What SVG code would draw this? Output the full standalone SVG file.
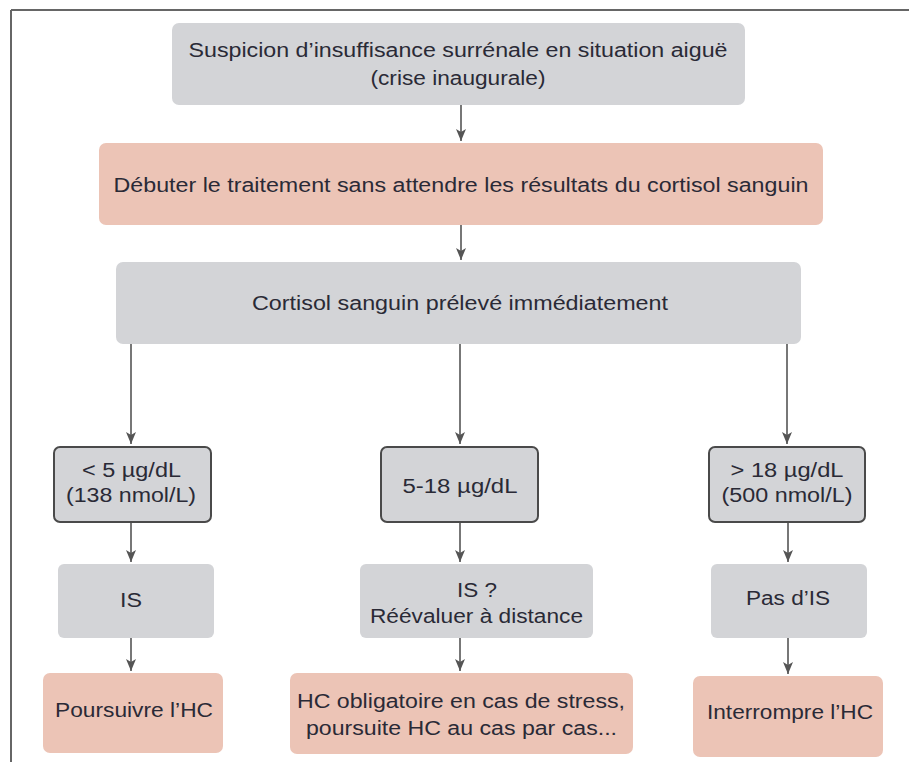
<svg xmlns="http://www.w3.org/2000/svg" width="909" height="762" viewBox="0 0 909 762">
<defs>
<style>
.grey{fill:#d3d4d7;}
.salmon{fill:#ecc4b6;}
.thr{fill:#d3d4d7;stroke:#4a4a4a;stroke-width:2;}
text{font-family:"Liberation Sans",Arial,Helvetica,sans-serif;font-size:20px;fill:#2a2a36;text-anchor:middle;}
.conn line{stroke:#555;stroke-width:1.6;fill:none;}
</style>
<marker id="ah" viewBox="0 0 12 10" refX="12" refY="5" markerWidth="12" markerHeight="10" markerUnits="userSpaceOnUse" orient="auto">
<path d="M0,0 L12,5 L0,10 L3,5 z" fill="#555"/>
</marker>
</defs>
<rect width="909" height="762" fill="#fff"/>
<g id="frame">
<line x1="11" y1="10" x2="909" y2="10" stroke="#666" stroke-width="2"/>
<line x1="11" y1="10" x2="11" y2="762" stroke="#666" stroke-width="2"/>
</g>
<g id="n1">
<rect class="grey" x="172" y="23" width="573" height="82" rx="7"/>
<text x="458" y="57" textLength="539" lengthAdjust="spacingAndGlyphs">Suspicion d’insuffisance surrénale en situation aiguë</text>
<text x="458" y="85" textLength="175" lengthAdjust="spacingAndGlyphs">(crise inaugurale)</text>
</g>
<g id="n2">
<rect class="salmon" x="99" y="143" width="724" height="82" rx="7"/>
<text x="461" y="192" textLength="695" lengthAdjust="spacingAndGlyphs">Débuter le traitement sans attendre les résultats du cortisol sanguin</text>
</g>
<g id="n3">
<rect class="grey" x="116" y="262" width="685" height="82" rx="7"/>
<text x="460" y="310" textLength="416" lengthAdjust="spacingAndGlyphs">Cortisol sanguin prélevé immédiatement</text>
</g>
<g id="t1">
<rect class="thr" x="54" y="447" width="157" height="75" rx="6"/>
<text x="131.5" y="477" textLength="99" lengthAdjust="spacingAndGlyphs">&lt; 5 µg/dL</text>
<text x="131" y="502" textLength="130" lengthAdjust="spacingAndGlyphs">(138 nmol/L)</text>
</g>
<g id="t2">
<rect class="thr" x="381" y="447" width="157" height="75" rx="6"/>
<text x="460" y="493" textLength="115" lengthAdjust="spacingAndGlyphs">5-18 µg/dL</text>
</g>
<g id="t3">
<rect class="thr" x="709" y="447" width="156" height="75" rx="6"/>
<text x="787" y="477" textLength="113" lengthAdjust="spacingAndGlyphs">&gt; 18 µg/dL</text>
<text x="787" y="502" textLength="131" lengthAdjust="spacingAndGlyphs">(500 nmol/L)</text>
</g>
<g id="d1">
<rect class="grey" x="58" y="564" width="156" height="74" rx="6"/>
<text x="131" y="607" textLength="22" lengthAdjust="spacingAndGlyphs">IS</text>
</g>
<g id="d2">
<rect class="grey" x="360" y="564" width="233" height="74" rx="6"/>
<text x="477" y="597" textLength="40" lengthAdjust="spacingAndGlyphs">IS ?</text>
<text x="476.5" y="623" textLength="213" lengthAdjust="spacingAndGlyphs">Réévaluer à distance</text>
</g>
<g id="d3">
<rect class="grey" x="711" y="564" width="156" height="74" rx="6"/>
<text x="788" y="605" textLength="84" lengthAdjust="spacingAndGlyphs">Pas d’IS</text>
</g>
<g id="r1">
<rect class="salmon" x="43" y="673" width="180" height="80" rx="7"/>
<text x="134" y="717" textLength="158" lengthAdjust="spacingAndGlyphs">Poursuivre l’HC</text>
</g>
<g id="r2">
<rect class="salmon" x="290" y="673" width="343" height="81" rx="7"/>
<text x="461" y="708" textLength="328" lengthAdjust="spacingAndGlyphs">HC obligatoire en cas de stress,</text>
<text x="461.5" y="735" textLength="311" lengthAdjust="spacingAndGlyphs">poursuite HC au cas par cas...</text>
</g>
<g id="r3">
<rect class="salmon" x="693" y="676" width="190" height="81" rx="7"/>
<text x="790" y="719" textLength="166" lengthAdjust="spacingAndGlyphs">Interrompre l’HC</text>
</g>
<g id="connectors" class="conn">
<line x1="461" y1="105" x2="461" y2="141" marker-end="url(#ah)"/>
<line x1="461" y1="225" x2="461" y2="260" marker-end="url(#ah)"/>
<line x1="131" y1="344" x2="131" y2="444" marker-end="url(#ah)"/>
<line x1="460" y1="344" x2="460" y2="444" marker-end="url(#ah)"/>
<line x1="787" y1="344" x2="787" y2="444" marker-end="url(#ah)"/>
<line x1="131" y1="523" x2="131" y2="562" marker-end="url(#ah)"/>
<line x1="460" y1="523" x2="460" y2="562" marker-end="url(#ah)"/>
<line x1="788" y1="523" x2="788" y2="562" marker-end="url(#ah)"/>
<line x1="131" y1="638" x2="131" y2="671" marker-end="url(#ah)"/>
<line x1="460" y1="638" x2="460" y2="671" marker-end="url(#ah)"/>
<line x1="788" y1="638" x2="788" y2="674" marker-end="url(#ah)"/>
</g>
</svg>
